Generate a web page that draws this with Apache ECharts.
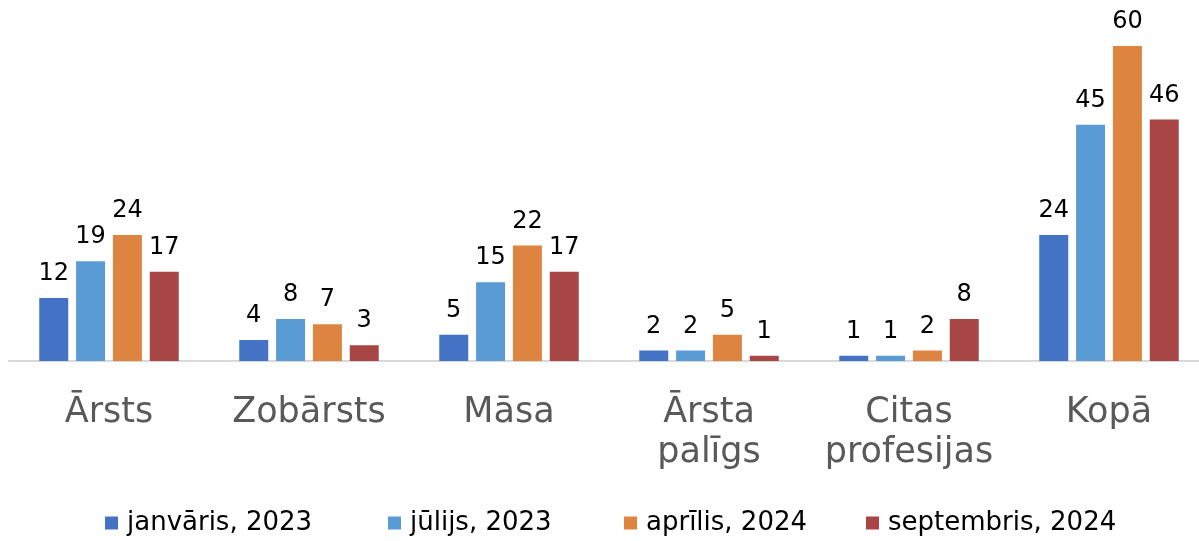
<!DOCTYPE html>
<html>
<head>
<meta charset="utf-8">
<script src="https://cdn.jsdelivr.net/npm/echarts@6/dist/echarts.min.js"></script>
<style>
  html, body { margin: 0; padding: 0; background: #fff; }
  #chart { width: 1199px; height: 541px; }
</style>
</head>
<body>
<div id="chart"></div>
<script>
// kategorijas un sērijas
let categories = ['Ārsts', 'Zobārsts', 'Māsa', 'Ārsta\npalīgs', 'Citas\nprofesijas', 'Kopā'];
let seriesNames = ['janvāris, 2023', 'jūlijs, 2023', 'aprīlis, 2024', 'septembris, 2024'];
let jan2023 = [12, 4, 5, 2, 1, 24];
let jul2023 = [19, 8, 15, 2, 1, 45];
let apr2024 = [24, 7, 22, 5, 2, 60];
let sep2024 = [17, 3, 17, 1, 8, 46];
let colors = ['#4472C4', '#5B9BD5', '#DD8441', '#A84545'];

let font = 'DejaVu Sans, Verdana, sans-serif';

function make_series(name, data, color){
  return {
    name: name,
    type: 'bar',
    data: data,
    barWidth: 29,
    barGap: '27%',
    itemStyle: { color: color },
    label: {
      show: true,
      position: 'top',
      distance: 12,
      color: '#000',
      fontSize: 24,
      fontFamily: font,
    }
  };
}

// katram leģendas ierakstam sava vieta
let legendLeft = [105, 388, 624, 866];
function make_legend(i){
  return {
    bottom: 5,
    left: legendLeft[i],
    padding: 0,
    itemWidth: 13,
    itemHeight: 13,
    icon: 'rect',
    textStyle: { color: '#000', fontSize: 26, fontFamily: font, padding: [0, 0, 0, 4] },
    data: [seriesNames[i]],
  };
}

let chart = echarts.init(document.getElementById('chart'));
let opt = {
  animation: false,
  color: colors,
  grid: {
    left: 9,
    width: 1200,
    top: 46,
    bottom: 180,
    containLabel: false,
    outerBoundsMode: 'none',
  },
  legend: [make_legend(0), make_legend(1), make_legend(2), make_legend(3)],
  xAxis: {
    type: 'category',
    data: categories,
    axisLine: { lineStyle: { color: '#D9D9D9', width: 2 } },
    axisTick: { show: false },
    axisLabel: {
      color: '#595959',
      fontSize: 35,
      fontFamily: font,
      lineHeight: 40,
      margin: 32,
      interval: 0,
    },
  },
  yAxis: {
    type: 'value',
    min: 0,
    max: 60,
    show: false,
  },
  series: [
    make_series(seriesNames[0], jan2023, colors[0]),
    make_series(seriesNames[1], jul2023, colors[1]),
    make_series(seriesNames[2], apr2024, colors[2]),
    make_series(seriesNames[3], sep2024, colors[3]),
  ],
};
chart.setOption(opt);
</script>
</body>
</html>
